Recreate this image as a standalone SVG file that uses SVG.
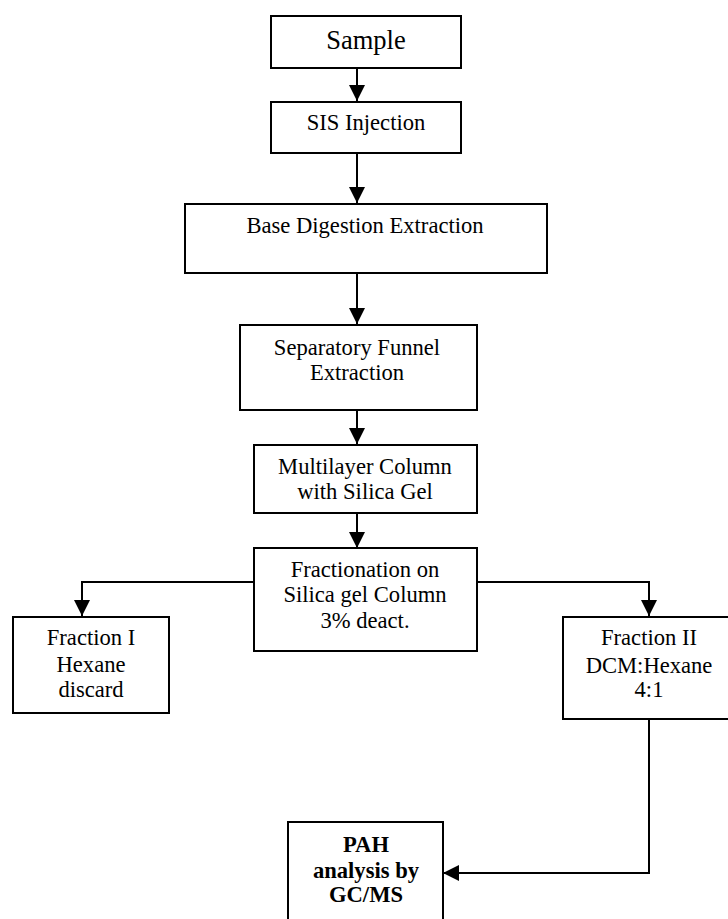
<svg xmlns="http://www.w3.org/2000/svg" width="728" height="919" viewBox="0 0 728 919">
<defs>
<style>
.box{fill:#fff;stroke:#000;stroke-width:2}
.ln{fill:none;stroke:#000;stroke-width:2}
text{font-family:"Liberation Serif","Times New Roman",serif;font-size:22.6px;fill:#000;text-anchor:middle}
.b{font-weight:bold}
</style>
<marker id="ah" viewBox="0 0 16 16" refX="16" refY="8" markerWidth="16" markerHeight="16" markerUnits="userSpaceOnUse" orient="auto">
<path d="M0,0 L16,8 L0,16 Z" fill="#000"/>
</marker>
</defs>
<rect width="728" height="919" fill="#fff"/>
<g id="connectors">
<path class="ln" d="M357,68 V101" marker-end="url(#ah)"/>
<path class="ln" d="M357,153 V203" marker-end="url(#ah)"/>
<path class="ln" d="M357,273 V324" marker-end="url(#ah)"/>
<path class="ln" d="M357,410 V444" marker-end="url(#ah)"/>
<path class="ln" d="M357,513 V548" marker-end="url(#ah)"/>
<path class="ln" d="M254,582 H82 V616" marker-end="url(#ah)"/>
<path class="ln" d="M477,582 H649 V616" marker-end="url(#ah)"/>
<path class="ln" d="M649,719 V873 H443" marker-end="url(#ah)"/>
</g>
<g id="sample">
<rect class="box" x="271" y="16" width="190" height="52"/>
<text x="366" y="49" style="font-size:26.5px">Sample</text>
</g>
<g id="sis">
<rect class="box" x="271" y="102" width="190" height="51"/>
<text x="366" y="130">SIS Injection</text>
</g>
<g id="base">
<rect class="box" x="185" y="204" width="362" height="69"/>
<text x="365" y="233">Base Digestion Extraction</text>
</g>
<g id="sep">
<rect class="box" x="240" y="325" width="237" height="85"/>
<text x="357" y="355">Separatory Funnel</text>
<text x="357" y="380">Extraction</text>
</g>
<g id="multi">
<rect class="box" x="254" y="445" width="223" height="68"/>
<text x="365" y="474">Multilayer Column</text>
<text x="365" y="499">with Silica Gel</text>
</g>
<g id="fractionation">
<rect class="box" x="254" y="548" width="223" height="103"/>
<text x="365" y="577">Fractionation on</text>
<text x="365" y="602">Silica gel Column</text>
<text x="365" y="628">3% deact.</text>
</g>
<g id="fraction1">
<rect class="box" x="13" y="617" width="156" height="96"/>
<text x="91" y="645">Fraction I</text>
<text x="91" y="672">Hexane</text>
<text x="91" y="697">discard</text>
</g>
<g id="fraction2">
<rect class="box" x="563" y="617" width="172" height="102"/>
<text x="649" y="645">Fraction II</text>
<text x="649" y="673">DCM:Hexane</text>
<text x="649" y="697">4:1</text>
</g>
<g id="pah">
<rect class="box" x="288" y="822" width="155" height="110"/>
<text class="b" x="366" y="852">PAH</text>
<text class="b" x="366" y="878">analysis by</text>
<text class="b" x="366" y="902">GC/MS</text>
</g>
</svg>
